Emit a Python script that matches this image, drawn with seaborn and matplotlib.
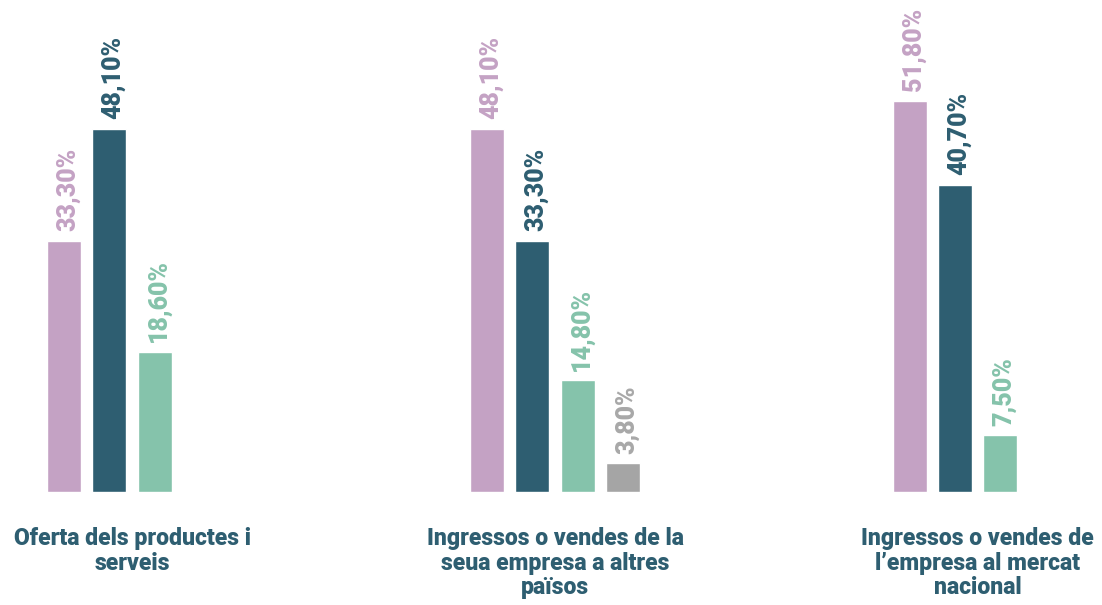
import numpy as np
import pandas as pd
import matplotlib
matplotlib.use("Agg")
import matplotlib.pyplot as plt
import seaborn as sns

# Survey results (% of responses) for three business aspects
categories = [
    "Oferta dels productes i\nserveis",
    "Ingressos o vendes de la\nseua empresa a altres\npaïsos",
    "Ingressos o vendes de\nl’empresa al mercat\nnacional",
]
series = ["Sèrie 1", "Sèrie 2", "Sèrie 3", "Sèrie 4"]
serie_1 = [33.3, 48.1, 51.8]
serie_2 = [48.1, 33.3, 40.7]
serie_3 = [18.6, 14.8, 7.5]
serie_4 = [None, 3.8, None]

palette = ["#C4A2C4", "#2E5E71", "#85C3AB", "#A5A5A5"]
label_colors = ["#C4A2C4", "#2E5E71", "#85C3AB", "#A8A8A8"]
text_color = "#2E5E71"

rows = []
for name, vals in zip(series, [serie_1, serie_2, serie_3, serie_4]):
    for cat, v in zip(categories, vals):
        if v is not None:
            rows.append({"categoria": cat, "serie": name, "valor": v})
df = pd.DataFrame(rows)

sns.set_style("white")
plt.rcParams["font.family"] = ["Roboto", "DejaVu Sans"]

fig = plt.figure(figsize=(11.02, 6.05), dpi=100)
ax = fig.add_axes([0, 113 / 605, 1, 492 / 605])

sns.barplot(
    data=df, x="categoria", y="valor", hue="serie",
    order=categories, hue_order=series, palette=palette,
    width=0.43, gap=0.253, errorbar=None, legend=False,
    saturation=1, ax=ax,
)

ax.set_xlim(-0.3127, 2.294)
ax.set_ylim(0, 492 / 7.55)
ax.set_xlabel("")
ax.set_ylabel("")
ax.set_yticks([])
sns.despine(ax=ax, left=True, bottom=True)

ax.tick_params(axis="x", length=0, pad=25)
for lbl in ax.get_xticklabels():
    lbl.set_fontsize(16.6)
    lbl.set_fontweight(900)
    lbl.set_color(text_color)
    lbl.set_linespacing(1.1)
    lbl.set_multialignment("center")

for container, col in zip(ax.containers, label_colors):
    anns = ax.bar_label(
        container,
        labels=[f"{v:.2f}%".replace(".", ",") for v in container.datavalues],
        rotation=90, padding=7, color=col,
        fontsize=18, fontweight=900,
    )
    for a in anns:
        a.xyann = (3, 7)

fig.savefig("out.png", dpi=100)
